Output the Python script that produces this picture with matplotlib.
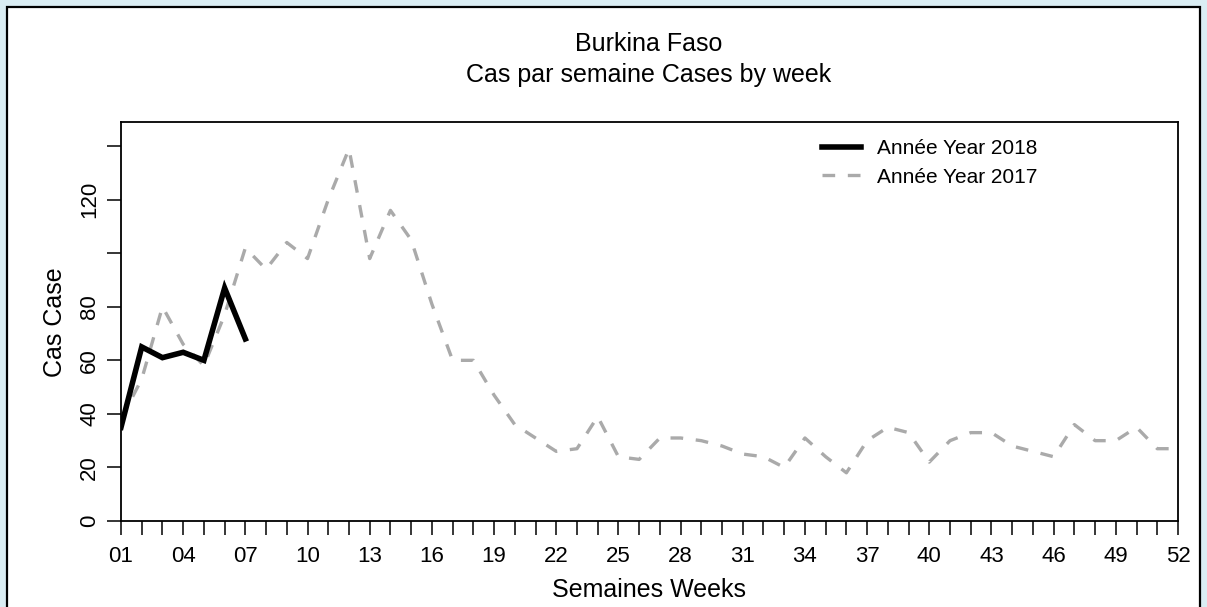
import numpy as np
import matplotlib
matplotlib.use("Agg")
import matplotlib.pyplot as plt
from matplotlib.patches import Rectangle
from matplotlib.ticker import FixedLocator, FixedFormatter

plt.rcParams['font.family'] = ['Liberation Sans', 'DejaVu Sans']

# donnees
weeks = np.arange(1, 53)
cases_2017 = [38, 53, 80, 66, 58, 77, 102, 94, 104, 98, 120, 139, 98, 116, 105, 81,
              60, 60, 47, 36, 31, 26, 27, 39, 24, 23, 31, 31, 30, 28, 25, 24, 20,
              31, 24, 18, 30, 35, 33, 22, 30, 33, 33, 28, 26, 24, 36, 30, 30, 35, 27, 27]
weeks_2018 = np.arange(1, 8)
cases_2018 = [35, 65, 61, 63, 60, 87, 68]

label_2018 = "Année Year 2018"
label_2017 = "Année Year 2017"
title_1 = "Burkina Faso"
title_2 = "Cas par semaine Cases by week"
xlab = "Semaines Weeks"
ylab = "Cas Case"

y_ticks = [0, 20, 40, 60, 80, 100, 120, 140]
y_labels = ["0", "20", "40", "60", "80", "", "120", ""]
x_major = np.arange(1, 53, 3)
x_labels = ["%02d" % w for w in x_major]

W, H = 1207, 607
fig = plt.figure(figsize=(W / 100, H / 100), dpi=100, facecolor='#daedf3')

# panneau blanc avec bordure
panel = Rectangle((7 / W, -0.01), (1200 - 7) / W, (H - 7) / H + 0.01, transform=fig.transFigure,
                  facecolor='white', edgecolor='black', lw=1.6, zorder=-10)
fig.patches.append(panel)

ax = fig.add_axes([121 / W, (H - 521) / H, (1178 - 121) / W, (521 - 122) / H])
ax.set_facecolor('white')
ax.set_zorder(1)

l17, = ax.plot(weeks, cases_2017, color='#aaaaaa', lw=2.4, label=label_2017)
l17.set_dashes([3.8, 3.8])
l18, = ax.plot(weeks_2018, cases_2018, color='black', lw=4, label=label_2018,
               solid_joinstyle='miter')

ax.set_xlim(1, 52)
ax.set_ylim(0, 149)

ax.xaxis.set_major_locator(FixedLocator(x_major))
ax.xaxis.set_major_formatter(FixedFormatter(x_labels))
ax.xaxis.set_minor_locator(FixedLocator(weeks))
ax.yaxis.set_major_locator(FixedLocator(y_ticks))
ax.yaxis.set_major_formatter(FixedFormatter(y_labels))

ax.tick_params(axis='x', which='both', direction='out', length=10, width=1.1, labelsize=16, pad=8)
ax.tick_params(axis='y', direction='out', length=10, width=1.1, labelsize=16, pad=5)
for t in ax.get_yticklabels():
    t.set_rotation(90)
    t.set_va('center')

for s in ax.spines.values():
    s.set_linewidth(1.3)

fig.text(649 / W, 1 - 44 / H, title_1, ha='center', va='center', fontsize=18)
fig.text(649 / W, 1 - 75 / H, title_2, ha='center', va='center', fontsize=18)
fig.text(649 / W, 1 - 590 / H, xlab, ha='center', va='center', fontsize=18)
fig.text(55 / W, 1 - 322 / H, ylab, ha='center', va='center', fontsize=18, rotation=90)

leg = ax.legend(handles=[l18, l17], loc='upper left', bbox_to_anchor=(0.663, 0.957),
                frameon=False, fontsize=15, handlelength=1.9, handletextpad=0.75,
                borderpad=0, borderaxespad=0, labelspacing=0.45)

fig.savefig("out.png", dpi=100, facecolor=fig.get_facecolor())
